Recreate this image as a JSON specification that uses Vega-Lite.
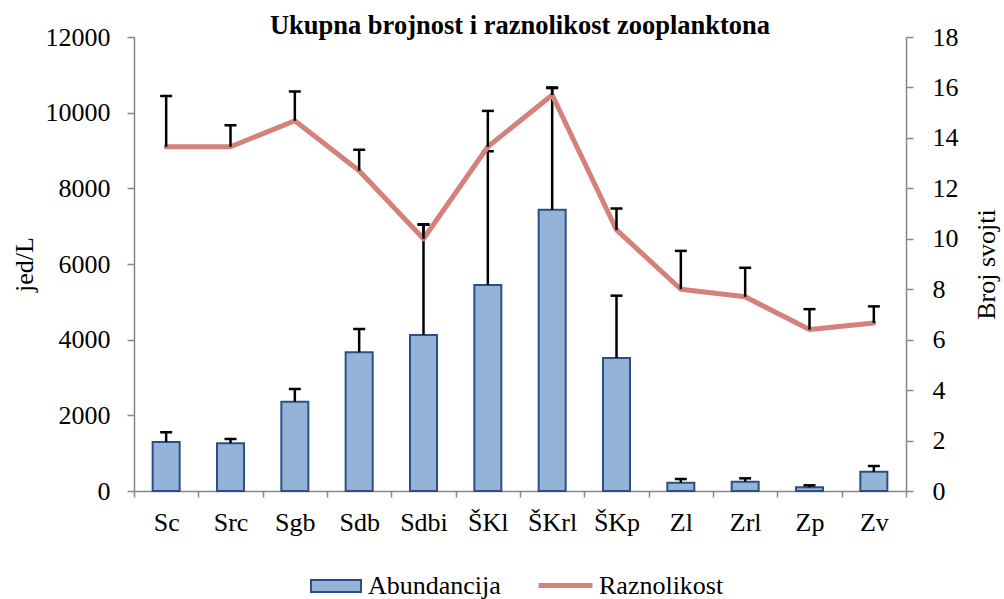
{
  "$schema": "https://vega.github.io/schema/vega-lite/v6.json",
  "width": 772,
  "height": 454,
  "autosize": {"type": "none"},
  "padding": {"left": 134, "top": 37, "right": 98, "bottom": 108},
  "background": "white",
  "title": {
    "text": "Ukupna brojnost i raznolikost zooplanktona",
    "font": "Liberation Serif",
    "fontSize": 26.5,
    "fontWeight": "bold",
    "color": "black",
    "anchor": "middle",
    "offset": -15
  },
  "config": {
    "view": {"stroke": null},
    "font": "Liberation Serif",
    "axis": {
      "domainColor": "#868686",
      "domainWidth": 1.5,
      "tickColor": "#868686",
      "tickWidth": 1.5,
      "labelColor": "black",
      "labelFont": "Liberation Serif",
      "labelFontSize": 26,
      "titleFont": "Liberation Serif",
      "titleFontSize": 26,
      "titleFontWeight": "normal",
      "titleColor": "black",
      "grid": false
    },
    "legend": {
      "orient": "none",
      "direction": "horizontal",
      "title": null,
      "labelFont": "Liberation Serif",
      "labelFontSize": 26,
      "labelColor": "black",
      "labelOffset": 6,
      "labelLimit": 300,
      "symbolOpacity": 1
    }
  },
  "data": {
    "values": [
      {"site": "Sc", "ab": 1295, "ab_hi": 1550, "div": 13.65, "div_hi": 15.66},
      {"site": "Src", "ab": 1260, "ab_hi": 1375, "div": 13.65, "div_hi": 14.5},
      {"site": "Sgb", "ab": 2360, "ab_hi": 2696, "div": 14.68, "div_hi": 15.84},
      {"site": "Sdb", "ab": 3666, "ab_hi": 4282, "div": 12.7, "div_hi": 13.53},
      {"site": "Sdbi", "ab": 4124, "ab_hi": 7050, "div": 10.0, "div_hi": 10.56},
      {"site": "ŠKl", "ab": 5445, "ab_hi": 8980, "div": 13.65, "div_hi": 15.07},
      {"site": "ŠKrl", "ab": 7436, "ab_hi": 10650, "div": 15.7, "div_hi": 16.0},
      {"site": "ŠKp", "ab": 3515, "ab_hi": 5163, "div": 10.35, "div_hi": 11.2},
      {"site": "Zl", "ab": 219, "ab_hi": 317, "div": 8.0, "div_hi": 9.52},
      {"site": "Zrl", "ab": 246, "ab_hi": 335, "div": 7.7, "div_hi": 8.85},
      {"site": "Zp", "ab": 98, "ab_hi": 150, "div": 6.4, "div_hi": 7.21},
      {"site": "Zv", "ab": 510, "ab_hi": 660, "div": 6.66, "div_hi": 7.32}
    ]
  },
  "encoding": {
    "x": {
      "field": "site",
      "type": "nominal",
      "sort": null,
      "scale": {"paddingInner": 0, "paddingOuter": 0},
      "axis": {
        "title": null,
        "labelAngle": 0,
        "tickBand": "extent",
        "tickSize": 6,
        "labelPadding": 12
      }
    }
  },
  "layer": [
    {
      "layer": [
        {
          "mark": {"type": "bar", "width": {"band": 0.42}, "stroke": "#2B5086", "strokeWidth": 2},
          "encoding": {
            "y": {
              "field": "ab",
              "type": "quantitative",
              "scale": {"domain": [0, 12000], "nice": false},
              "axis": {
                "orient": "left",
                "title": "jed/L",
                "values": [0, 2000, 4000, 6000, 8000, 10000, 12000],
                "format": "d",
                "tickSize": 7,
                "labelPadding": 17,
                "titlePadding": 8
              }
            },
            "fill": {
              "datum": "Abundancija",
              "scale": {"domain": ["Abundancija"], "range": ["#95B3D7"]},
              "legend": {
                "legendX": 176,
                "legendY": 523,
                "labelFont": "Liberation Serif",
                "labelFontSize": 26,
                "labelColor": "black",
                "symbolType": "M-1,-0.24H1V0.24H-1Z",
                "symbolSize": 2500,
                "symbolStrokeColor": "#2B5086",
                "symbolStrokeWidth": 2
              }
            }
          }
        },
        {
          "mark": {"type": "rule", "color": "black", "strokeWidth": 2.5},
          "encoding": {
            "y": {
              "field": "ab",
              "type": "quantitative",
              "axis": {
                "orient": "left",
                "title": "jed/L",
                "values": [0, 2000, 4000, 6000, 8000, 10000, 12000],
                "format": "d",
                "tickSize": 7,
                "labelPadding": 17,
                "titlePadding": 8
              }
            },
            "y2": {"field": "ab_hi"}
          }
        },
        {
          "mark": {"type": "tick", "color": "black", "thickness": 2.5, "size": 12, "opacity": 1},
          "encoding": {
            "y": {
              "field": "ab_hi",
              "type": "quantitative",
              "axis": {
                "orient": "left",
                "title": "jed/L",
                "values": [0, 2000, 4000, 6000, 8000, 10000, 12000],
                "format": "d",
                "tickSize": 7,
                "labelPadding": 17,
                "titlePadding": 8
              }
            }
          }
        }
      ]
    },
    {
      "layer": [
        {
          "mark": {"type": "line", "strokeWidth": 5, "strokeJoin": "round", "strokeCap": "round"},
          "encoding": {
            "y": {
              "field": "div",
              "type": "quantitative",
              "scale": {"domain": [0, 18], "nice": false},
              "axis": {
                "orient": "right",
                "title": "Broj svojti",
                "titleAngle": 270,
                "values": [0, 2, 4, 6, 8, 10, 12, 14, 16, 18],
                "tickSize": 7,
                "labelPadding": 19,
                "titlePadding": 41
              }
            },
            "stroke": {
              "datum": "Raznolikost",
              "scale": {"domain": ["Raznolikost"], "range": ["#D4807B"]},
              "legend": {
                "legendX": 402,
                "legendY": 519,
                "labelOffset": 4,
                "labelFont": "Liberation Serif",
                "labelFontSize": 26,
                "labelColor": "black",
                "symbolType": "stroke",
                "symbolSize": 2916,
                "symbolStrokeWidth": 5
              }
            }
          }
        },
        {
          "mark": {"type": "rule", "color": "black", "strokeWidth": 2.5},
          "encoding": {
            "y": {
              "field": "div",
              "type": "quantitative",
              "axis": {
                "orient": "right",
                "title": "Broj svojti",
                "titleAngle": 270,
                "values": [0, 2, 4, 6, 8, 10, 12, 14, 16, 18],
                "tickSize": 7,
                "labelPadding": 19,
                "titlePadding": 41
              }
            },
            "y2": {"field": "div_hi"}
          }
        },
        {
          "mark": {"type": "tick", "color": "black", "thickness": 2.5, "size": 12, "opacity": 1},
          "encoding": {
            "y": {
              "field": "div_hi",
              "type": "quantitative",
              "axis": {
                "orient": "right",
                "title": "Broj svojti",
                "titleAngle": 270,
                "values": [0, 2, 4, 6, 8, 10, 12, 14, 16, 18],
                "tickSize": 7,
                "labelPadding": 19,
                "titlePadding": 41
              }
            }
          }
        }
      ]
    }
  ],
  "resolve": {"scale": {"y": "independent"}}
}
